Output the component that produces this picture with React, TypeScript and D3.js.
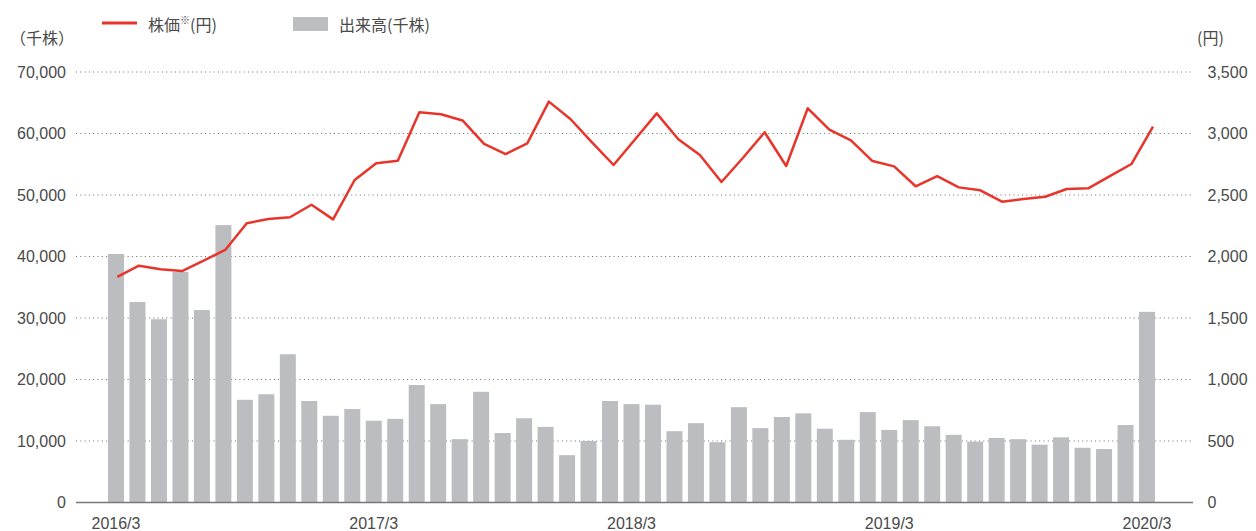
import React from "react";
import * as d3 from "d3";

const months: string[] = d3.range(49).map(
  (i) => `${2016 + Math.floor((i + 2) / 12)}/${((i + 2) % 12) + 1}`
);
const xTickLabels = ["2016/3", "2017/3", "2018/3", "2019/3", "2020/3"];

// 出来高（千株）
const volume = [
  40400, 32600, 29800, 37500, 31300, 45100, 16700, 17600, 24100, 16500, 14100,
  15200, 13300, 13600, 19100, 16000, 10300, 18000, 11300, 13700, 12300, 7700,
  10000, 16500, 16000, 15900, 11600, 12900, 9800, 15500, 12100, 13900, 14500,
  12000, 10200, 14700, 11800, 13400, 12400, 11000, 9900, 10500, 10300, 9400,
  10600, 8900, 8700, 12600, 31000,
];

// 株価（円）
const price = [
  1835, 1925, 1896, 1882, 1966, 2053, 2270, 2305, 2319, 2421, 2302, 2622, 2758,
  2779, 3172, 3156, 3106, 2915, 2833, 2920, 3259, 3118, 2928, 2744, 2953, 3164,
  2953, 2825, 2606, 2803, 3010, 2736, 3205, 3031, 2944, 2776, 2733, 2571, 2654,
  2562, 2538, 2446, 2467, 2486, 2549, 2554, 2654, 2752, 3055,
];

const leftTicks = [0, 10000, 20000, 30000, 40000, 50000, 60000, 70000];
const rightTicks = [0, 500, 1000, 1500, 2000, 2500, 3000, 3500];

const W = 1256;
const H = 531;
const NUM_FONT = "'Liberation Sans', Arial, sans-serif";
const CJK_FONT = "'Noto Sans CJK JP', 'Noto Sans', sans-serif";
const TEXT = "#4a4a4a";
const RED = "#e8352b";
const BAR = "#bcbdc1";

export default function App() {
  const step = 21.48;
  const x = d3
    .scaleBand<string>()
    .domain(months)
    .range([116 - step / 2, 1147 + step / 2])
    .paddingInner(0.255)
    .paddingOuter(0.1275);
  const xLine = d3.scalePoint<string>().domain(months).range([117.3, 1153]);
  const yL = d3.scaleLinear().domain([0, 70000]).range([502.5, 72]);
  const yR = d3.scaleLinear().domain([0, 3500]).range([502.5, 72]);
  const gx0 = 76;
  const gx1 = 1193;

  const line = d3
    .line<number>()
    .x((_, i) => xLine(months[i]) as number)
    .y((d) => yR(d));

  const fmt = d3.format(",");

  return (
    <svg
      width={W}
      height={H}
      viewBox={`0 0 ${W} ${H}`}
      style={{ position: "absolute", left: 0, top: 0, display: "block", background: "#fff" }}
    >
      {/* legend */}
      <line x1={102} x2={137} y1={23} y2={23} stroke={RED} strokeWidth={3} />
      <text x={148} y={24} dominantBaseline="central" fontFamily={CJK_FONT} fontSize={16} fill={TEXT}>
        株価<tspan fontSize={10} dy={-5}>※</tspan>
        <tspan dy={5}>(円)</tspan>
      </text>
      <rect x={293} y={17} width={35} height={14} fill={BAR} />
      <text x={339} y={24} dominantBaseline="central" fontFamily={CJK_FONT} fontSize={16} fill={TEXT}>
        出来高(千株)
      </text>

      {/* axis titles */}
      <text x={10} y={37} dominantBaseline="central" fontFamily={CJK_FONT} fontSize={16} fill={TEXT}>
        （千株）
      </text>
      <text x={1197} y={37} dominantBaseline="central" fontFamily={CJK_FONT} fontSize={16} fill={TEXT}>
        (円)
      </text>

      {/* gridlines */}
      {leftTicks
        .filter((t) => t > 0)
        .map((t) => (
          <line
            key={`g${t}`}
            x1={gx0}
            x2={gx1}
            y1={yL(t)}
            y2={yL(t)}
            stroke="#6b6b6b"
            strokeWidth={1}
            strokeDasharray="1 3.3"
          />
        ))}

      {/* bars */}
      {volume.map((v, i) => (
        <rect
          key={`b${i}`}
          x={x(months[i])}
          y={yL(v)}
          width={x.bandwidth()}
          height={yL(0) - yL(v)}
          fill={BAR}
        />
      ))}

      {/* baseline */}
      <line x1={gx0} x2={gx1} y1={yL(0)} y2={yL(0)} stroke="#777" strokeWidth={1.5} />

      {/* price line */}
      <path d={line(price) || ""} fill="none" stroke={RED} strokeWidth={2.5} strokeLinejoin="round" />

      {/* left ticks */}
      {leftTicks.map((t) => (
        <text
          key={`l${t}`}
          x={66}
          y={yL(t)}
          textAnchor="end"
          dominantBaseline="central"
          fontFamily={NUM_FONT}
          fontSize={16}
          fill={TEXT}
        >
          {fmt(t)}
        </text>
      ))}

      {/* right ticks */}
      {rightTicks.map((t) => (
        <text
          key={`r${t}`}
          x={1207.5}
          y={yR(t)}
          textAnchor="start"
          dominantBaseline="central"
          fontFamily={NUM_FONT}
          fontSize={16}
          fill={TEXT}
        >
          {fmt(t)}
        </text>
      ))}

      {/* x labels */}
      {xTickLabels.map((m) => (
        <text
          key={m}
          x={(x(m) as number) + x.bandwidth() / 2}
          y={529}
          textAnchor="middle"
          fontFamily={NUM_FONT}
          fontSize={16}
          fill={TEXT}
        >
          {m}
        </text>
      ))}
    </svg>
  );
}
